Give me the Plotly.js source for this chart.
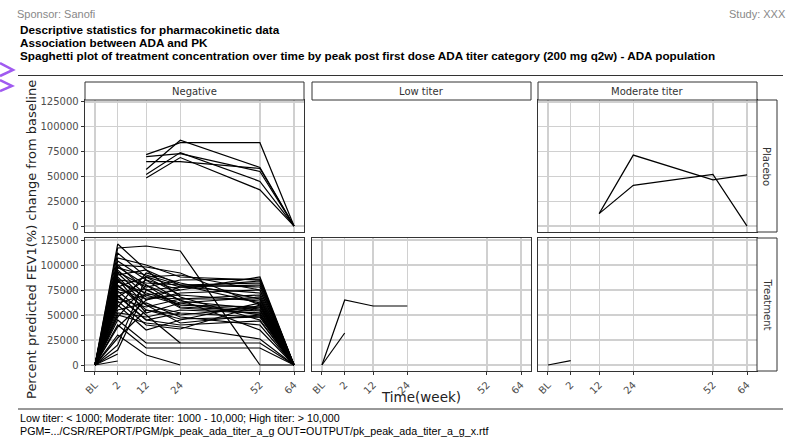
<!DOCTYPE html>
<html>
<head>
<meta charset="utf-8">
<script src="https://cdn.plot.ly/plotly-3.0.1.min.js"></script>
<style>html,body{margin:0;padding:0;background:#fff}#chart{width:797px;height:437px}</style>
</head>
<body>
<div id="chart"></div>
<script>
// ---------- data ----------
const weekValues = [-6, 2, 12, 24, 52, 64];
const weekLabels = ["BL", "2", "12", "24", "52", "64"];
const titerCategories = ["Negative", "Low titer", "Moderate titer"];
const treatmentGroups = ["Placebo", "Treatment"];
const yTicks = [0, 25000, 50000, 75000, 100000, 125000];

// Placebo, Negative (values at BL,2,12,24,52,64)
const placeboNegative = [
  [null, null, 72000, 84000, 84000, 0],
  [null, null, 57000, 86500, 59000, 0],
  [null, null, 70000, 73000, 55000, 0],
  [null, null, 65000, 65000, 58000, 0],
  [null, null, 52000, 74000, 45000, 0],
  [null, null, 48500, 69000, 36500, 0]
];
// Placebo, Low titer: no subjects
const placeboLow = [];
// Placebo, Moderate titer
const placeboModerate = [
  [null, null, 12500, 71500, 46500, 51500],
  [null, null, 12500, 41000, 52000, 0]
];
// Treatment, Negative
const treatmentNegative = [
  [0, 117000, 119000, 114000, 0, 0],
  [0, 121000, 95000, 80000, 62000, 0],
  [0, 107000, 100000, 88000, 85000, 0],
  [0, 104000, 85000, 75000, 88000, 0],
  [0, 100000, 98000, 92000, 60000, 0],
  [0, 97000, 90000, 80000, 78000, 0],
  [0, 95000, 70000, 60000, 55000, 0],
  [0, 93000, 78000, 85000, 86000, 0],
  [0, 90000, 95000, 68000, 45000, 0],
  [0, 88000, 60000, 52000, 48000, 0],
  [0, 85000, 82000, 80000, 82000, 0],
  [0, 83000, 72000, 62000, 50000, 0],
  [0, 80000, 55000, 50000, 58000, 0],
  [0, 78000, 88000, 78000, 72000, 0],
  [0, 76000, 66000, 70000, 64000, 0],
  [0, 74000, 50000, 22000, null, null],
  [0, 72000, 76000, 57000, 52000, 0],
  [0, 70000, 45000, 40000, 44000, 0],
  [0, 68000, 85000, 64000, 56000, 0],
  [0, 66000, 58000, 66000, 70000, 0],
  [0, 64000, 40000, 36000, 60000, 0],
  [0, 62000, 70000, 75000, null, null],
  [0, 60000, 35000, 45000, 62000, 0],
  [0, 58000, 92000, 82000, 66000, 0],
  [0, 55000, 62000, 48000, 40000, 0],
  [0, 52000, 48000, 55000, 52000, 0],
  [0, 50000, 42000, 38000, 26000, 0],
  [0, 48000, 80000, 58000, 54000, 0],
  [0, 45000, 22000, 22000, 22000, 0],
  [0, 40000, 17000, 17000, 17000, 0],
  [0, 38000, 65000, 72000, 75000, 0],
  [0, 30000, 10000, 0, null, null],
  [0, 27000, 55000, 46000, 48000, 0],
  [0, 20000, 88000, 70000, null, null],
  [0, 15000, 75000, 60000, 58000, 0],
  [0, 11000, null, null, null, null],
  [0, 4000, null, null, null, null],
  [0, 100000, 75000, 78000, 80000, 0],
  [0, 92000, 65000, 78000, 84000, 0],
  [0, 86000, 52000, 62000, 68000, 0],
  [0, 112000, 88000, 90000, 75000, 0],
  [0, 98000, 80000, 65000, 35000, 0],
  [0, 84000, 68000, 66000, 66000, 0],
  [0, 79000, 60000, 42000, 50000, 0],
  [0, 69000, 45000, 52000, null, null]
];
// Treatment, Low titer
const treatmentLow = [
  [0, 65000, 59000, 59000, null, null],
  [0, 32000, null, null, null, null]
];
// Treatment, Moderate titer
const treatmentModerate = [
  [0, 4300, null, null, null, null]
];

const panelData = [placeboNegative, placeboLow, placeboModerate,
                   treatmentNegative, treatmentLow, treatmentModerate];

// ---------- geometry (pixels) ----------
const W = 797, H = 437;
const colX = [[85, 304], [312, 531], [538, 757]];
const rowY = [[100, 232], [238, 371]];
const px = x => x / W;
const py = y => 1 - y / H;

const traces = [];
panelData.forEach((lines, p) => {
  const suffix = p === 0 ? "" : String(p + 1);
  lines.forEach(vals => {
    traces.push({
      x: weekValues, y: vals, type: "scatter", mode: "lines",
      xaxis: "x" + suffix, yaxis: "y" + suffix,
      line: {color: "#000", width: 1.2}, hoverinfo: "skip", showlegend: false
    });
  });
});

const layout = {
  width: W, height: H, margin: {l: 0, r: 0, t: 0, b: 0},
  paper_bgcolor: "#fff", plot_bgcolor: "#fff", showlegend: false,
  shapes: [], annotations: []
};

const tickFont = {family: "DejaVu Sans", size: 10, color: "#4d4d4d"};
for (let r = 0; r < 2; r++) {
  for (let c = 0; c < 3; c++) {
    const p = r * 3 + c;
    const suffix = p === 0 ? "" : String(p + 1);
    layout["xaxis" + suffix] = {
      domain: [px(colX[c][0]), px(colX[c][1])], anchor: "y" + suffix,
      range: [-9.5, 67.5], tickvals: weekValues, ticktext: weekLabels,
      showticklabels: r === 1, ticks: r === 1 ? "outside" : "", ticklen: 3,
      tickcolor: "#333", tickwidth: 1, tickangle: -45, tickfont: tickFont,
      showgrid: true, gridcolor: "#d0d0d0", gridwidth: 1.3, zeroline: false,
      showline: true, mirror: true, linecolor: "#333", linewidth: 1.3, fixedrange: true
    };
    layout["yaxis" + suffix] = {
      domain: [py(rowY[r][1]), py(rowY[r][0])], anchor: "x" + suffix,
      range: [-6000, 127000], tickvals: yTicks, ticktext: yTicks.map(String),
      showticklabels: c === 0, ticks: c === 0 ? "outside" : "", ticklen: 3,
      tickcolor: "#333", tickwidth: 1, tickfont: tickFont,
      showgrid: true, gridcolor: "#d0d0d0", gridwidth: 1.3, zeroline: false,
      showline: true, mirror: true, linecolor: "#333", linewidth: 1.3, fixedrange: true
    };
  }
}

const stripFont = {family: "DejaVu Sans", size: 10, color: "#333"};
// top strips
titerCategories.forEach((name, c) => {
  layout.shapes.push({type: "rect", xref: "paper", yref: "paper",
    x0: px(colX[c][0]), x1: px(colX[c][1]), y0: py(100), y1: py(82),
    fillcolor: "#fff", line: {color: "#333", width: 1}});
  layout.annotations.push({text: name, xref: "paper", yref: "paper",
    x: px((colX[c][0] + colX[c][1]) / 2), y: py(91), showarrow: false,
    xanchor: "center", yanchor: "middle", font: stripFont});
});
// right strips
treatmentGroups.forEach((name, r) => {
  layout.shapes.push({type: "rect", xref: "paper", yref: "paper",
    x0: px(757), x1: px(777), y0: py(rowY[r][1]), y1: py(rowY[r][0]),
    fillcolor: "#fff", line: {color: "#333", width: 1}});
  layout.annotations.push({text: name, xref: "paper", yref: "paper",
    x: px(767), y: py((rowY[r][0] + rowY[r][1]) / 2), showarrow: false,
    textangle: 90, xanchor: "center", yanchor: "middle", font: stripFont});
});

// axis titles
layout.annotations.push({text: "Time(week)", xref: "paper", yref: "paper",
  x: px(421), y: py(397), showarrow: false, xanchor: "center", yanchor: "middle",
  font: {family: "DejaVu Sans", size: 13.5, color: "#222"}});
layout.annotations.push({text: "Percent predicted FEV1(%) change from baseline",
  xref: "paper", yref: "paper", x: px(31), y: py(240), showarrow: false,
  textangle: -90, xanchor: "center", yanchor: "middle",
  font: {family: "DejaVu Sans", size: 13, color: "#222"}});

// header / footer texts
const hdr = (text, x, y, opts) => Object.assign({text, xref: "paper", yref: "paper",
  x: px(x), y: py(y), showarrow: false, xanchor: "left", yanchor: "middle",
  font: {family: "Liberation Sans", size: 11, color: "#000"}}, opts || {});
layout.annotations.push(hdr("Sponsor: Sanofi", 15, 14, {font: {family: "Liberation Sans", size: 11, color: "#888"}}));
layout.annotations.push(hdr("Study: XXX", 788, 14, {xanchor: "right", font: {family: "Liberation Sans", size: 11, color: "#888"}}));
const boldFont = {family: "Liberation Sans", size: 11.7, color: "#000"};
layout.annotations.push(hdr("<b>Descriptive statistics for pharmacokinetic data</b>", 18, 29, {font: boldFont}));
layout.annotations.push(hdr("<b>Association between ADA and PK</b>", 18, 42, {font: boldFont}));
layout.annotations.push(hdr("<b>Spaghetti plot of treatment concentration over time by peak post first dose ADA titer category (200 mg q2w) - ADA population</b>", 18, 55, {font: boldFont}));
const footFont = {family: "Liberation Sans", size: 10.7, color: "#000"};
layout.annotations.push(hdr("Low titer: < 1000; Moderate titer: 1000 - 10,000; High titer: > 10,000", 18, 418, {font: footFont}));
layout.annotations.push(hdr("PGM=.../CSR/REPORT/PGM/pk_peak_ada_titer_a_g OUT=OUTPUT/pk_peak_ada_titer_a_g_x.rtf", 18, 430.5, {font: footFont}));

// separator lines
layout.shapes.push({type: "line", xref: "paper", yref: "paper", x0: px(18), x1: px(783), y0: py(75.5), y1: py(75.5), line: {color: "#333", width: 1}});
layout.shapes.push({type: "line", xref: "paper", yref: "paper", x0: px(18), x1: px(783), y0: py(409), y1: py(409), line: {color: "#333", width: 1}});
// purple marker at left edge
layout.shapes.push({type: "path", xref: "paper", yref: "paper",
  path: `M ${px(0)} ${py(63)} L ${px(13)} ${py(70)} L ${px(0)} ${py(76)}`,
  line: {color: "#a05af0", width: 2.5}});
layout.shapes.push({type: "path", xref: "paper", yref: "paper",
  path: `M ${px(0)} ${py(80)} L ${px(12)} ${py(86)} L ${px(0)} ${py(91)}`,
  line: {color: "#a05af0", width: 2.5}});

Plotly.newPlot("chart", traces, layout, {staticPlot: true, displayModeBar: false});
</script>
</body>
</html>
